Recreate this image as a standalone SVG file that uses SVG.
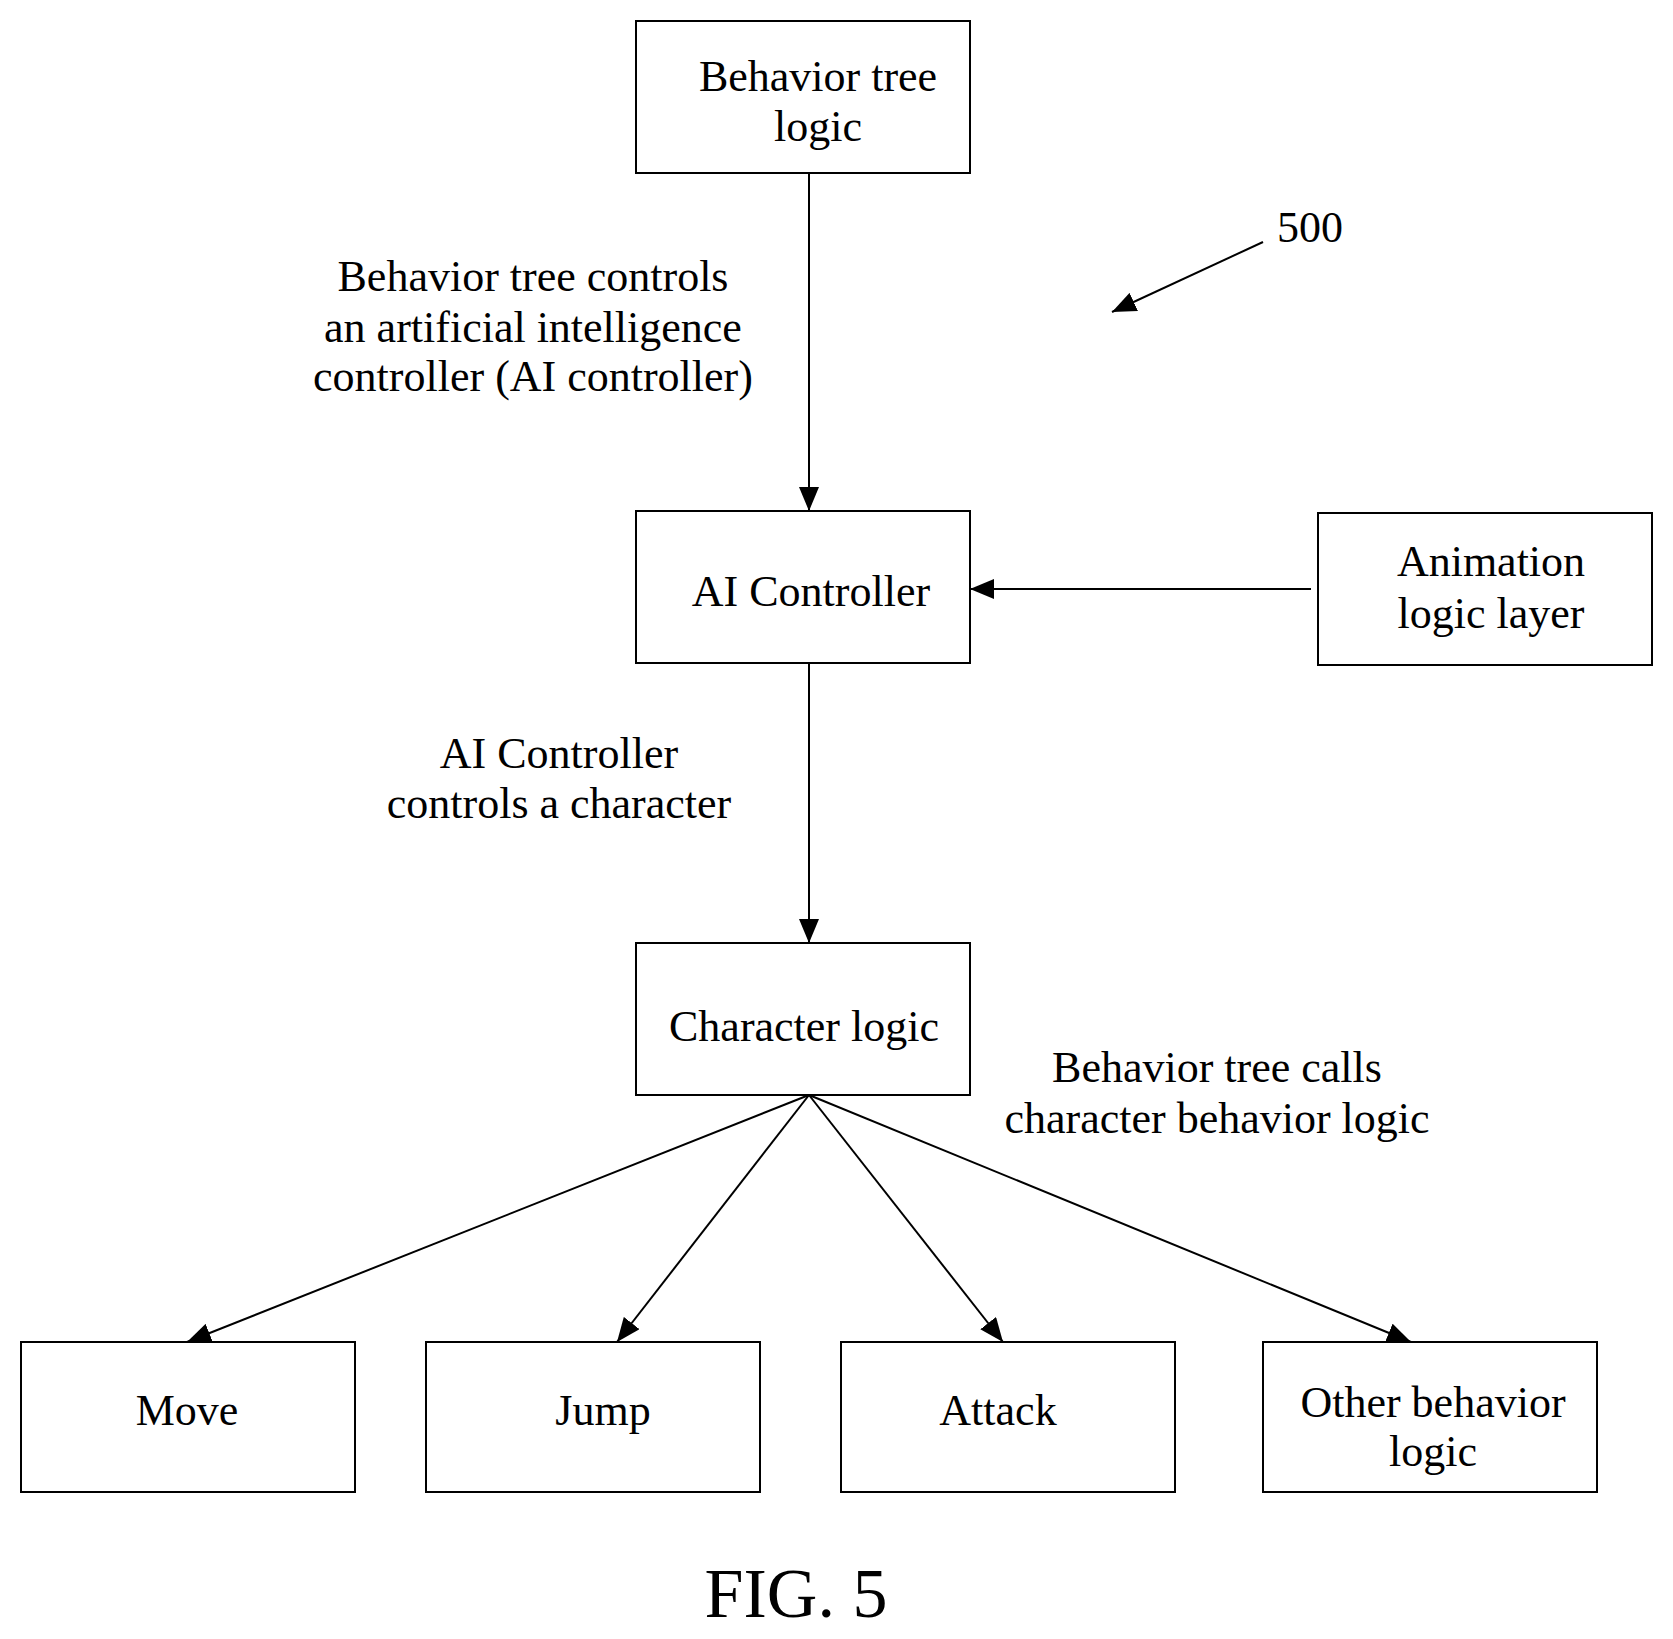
<svg xmlns="http://www.w3.org/2000/svg" width="1673" height="1639" viewBox="0 0 1673 1639">
<style>
rect{fill:#fff;stroke:#000;stroke-width:2}
text{font-family:"Liberation Serif",serif;font-size:44px;text-anchor:middle;fill:#000}
.c line{stroke:#000;stroke-width:2}
</style>
<defs><marker id="a" markerWidth="12" markerHeight="10" refX="11" refY="5" orient="auto" markerUnits="userSpaceOnUse" viewBox="0 0 12 10"><path d="M0,0L12,5L0,10z" fill="#000"/></marker>
<marker id="b" markerWidth="24" markerHeight="20" refX="24" refY="10" orient="auto" markerUnits="userSpaceOnUse" viewBox="0 0 24 20"><path d="M0,0L24,10L0,20z" fill="#000"/></marker></defs>
<rect width="1673" height="1639" style="stroke:none"/>
<g class="c">
<line x1="809" y1="173" x2="809" y2="511" marker-end="url(#b)"/>
<line x1="809" y1="663" x2="809" y2="943" marker-end="url(#b)"/>
<line x1="1311" y1="589" x2="970" y2="589" marker-end="url(#b)"/>
<line x1="809" y1="1095" x2="187" y2="1342" marker-end="url(#b)"/>
<line x1="809" y1="1095" x2="617" y2="1342" marker-end="url(#b)"/>
<line x1="809" y1="1095" x2="1003" y2="1342" marker-end="url(#b)"/>
<line x1="809" y1="1095" x2="1411" y2="1342" marker-end="url(#b)"/>
<line x1="1263" y1="242" x2="1112" y2="312" marker-end="url(#b)"/>
</g>
<g id="bt"><rect x="636" y="21" width="334" height="152"/><text x="818" y="91">Behavior tree</text><text x="818" y="141">logic</text></g>
<g id="ai"><rect x="636" y="511" width="334" height="152"/><text x="811" y="606">AI Controller</text></g>
<g id="anim"><rect x="1318" y="513" width="334" height="152"/><text x="1491" y="576">Animation</text><text x="1491" y="628">logic layer</text></g>
<g id="char"><rect x="636" y="943" width="334" height="152"/><text x="804" y="1041">Character logic</text></g>
<g id="move"><rect x="21" y="1342" width="334" height="150"/><text x="187" y="1425">Move</text></g>
<g id="jump"><rect x="426" y="1342" width="334" height="150"/><text x="603" y="1425">Jump</text></g>
<g id="attack"><rect x="841" y="1342" width="334" height="150"/><text x="998" y="1425">Attack</text></g>
<g id="other"><rect x="1263" y="1342" width="334" height="150"/><text x="1433" y="1417">Other behavior</text><text x="1433" y="1466">logic</text></g>
<g id="labels">
<text x="533" y="291">Behavior tree controls</text><text x="533" y="342">an artificial intelligence</text><text x="533" y="391">controller (AI controller)</text>
<text x="559" y="768">AI Controller</text><text x="559" y="818">controls a character</text>
<text x="1217" y="1082">Behavior tree calls</text><text x="1217" y="1133">character behavior logic</text>
<text x="1310" y="242">500</text>
<text x="796" y="1617" style="font-size:70px">FIG. 5</text>
</g>
</svg>
